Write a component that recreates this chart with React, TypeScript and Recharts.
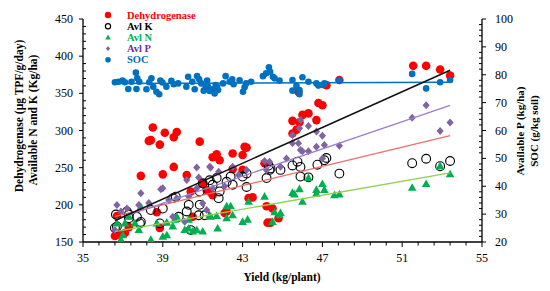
import React from "react";
import { ComposedChart, Scatter, XAxis, YAxis } from "recharts";

// yield (kg/plant) vs value
const dehydrogenase: [number, number][] = [
  [36.6, 158], [36.7, 185], [36.8, 160], [37.1, 162], [37.3, 170], [37.9, 239],
  [38.3, 286], [38.4, 287], [38.5, 304], [38.7, 190], [38.85, 169], [38.85, 281],
  [39.0, 241], [39.1, 297], [39.55, 291], [39.55, 251], [39.7, 298], [40.2, 240],
  [40.4, 218], [40.5, 184], [40.85, 285], [41.0, 229], [41.2, 220], [41.35, 218],
  [41.5, 213], [41.5, 264], [41.7, 268], [41.85, 260], [42.1, 189], [42.2, 191],
  [42.5, 269], [42.5, 248], [43.0, 267], [43.1, 278], [43.2, 277], [43.0, 247],
  [43.3, 209], [43.5, 210], [44.1, 256], [44.2, 198], [44.25, 176], [44.4, 176],
  [44.5, 195], [44.8, 182], [45.5, 296], [45.5, 313], [45.7, 301], [45.85, 311],
  [45.8, 352], [46.0, 321], [46.3, 323], [46.7, 314], [46.8, 337], [47.0, 334],
  [47.2, 361], [47.85, 368], [51.55, 387], [52.2, 387], [52.9, 382], [53.4, 374],
];

const avlK: [number, number][] = [
  [36.6, 169], [36.65, 187], [36.7, 171], [37.2, 191], [37.3, 187], [37.3, 182],
  [37.7, 184], [37.85, 175], [37.9, 177], [38.4, 193], [38.85, 175], [39.0, 195],
  [39.5, 209], [39.65, 211], [39.8, 184], [40.2, 191], [40.3, 200], [40.4, 166],
  [40.8, 186], [40.85, 200], [40.85, 218], [41.0, 229], [41.1, 186], [41.35, 233],
  [41.5, 227], [41.7, 236], [41.8, 209], [41.85, 218], [42.2, 231], [42.4, 238],
  [42.5, 227], [43.0, 238], [43.2, 242], [43.2, 224], [44.2, 236], [44.3, 253],
  [44.35, 247], [44.4, 249], [44.9, 247], [45.5, 253], [45.75, 258], [45.9, 251],
  [45.9, 238], [46.3, 237], [46.75, 254], [47.1, 260], [47.2, 263], [47.85, 242],
  [51.5, 256], [52.2, 262], [52.9, 252], [53.4, 259],
];

const avlN: [number, number][] = [
  [36.7, 175], [36.9, 153], [37.0, 159], [37.1, 175], [37.3, 184], [37.6, 175],
  [37.8, 166], [37.9, 197], [38.4, 153], [38.7, 175], [39.0, 157], [39.2, 159],
  [39.2, 176], [39.5, 171], [39.6, 180], [39.7, 184], [40.1, 166], [40.3, 168],
  [40.3, 180], [40.5, 164], [40.7, 166], [41.0, 164], [41.35, 186], [41.4, 184],
  [41.7, 185], [41.75, 168], [42.2, 198], [42.2, 182], [42.4, 198], [42.5, 186],
  [43.0, 177], [43.25, 180], [43.3, 204], [44.1, 211], [44.5, 177], [44.6, 190],
  [44.85, 186], [44.9, 189], [45.5, 216], [45.6, 214], [45.85, 221], [46.0, 204],
  [46.3, 236], [46.7, 220], [46.7, 215], [47.0, 228], [47.1, 220], [47.6, 213],
  [47.85, 214], [51.5, 223], [52.2, 228], [52.9, 252], [53.4, 241],
];

// right axis (kg/ha)
const avlP: [number, number][] = [
  [36.6, 24.3], [36.7, 33.3], [36.9, 30.9], [37.2, 32], [37.8, 33.3], [37.9, 37.5],
  [38.3, 34], [38.9, 38.9], [39.0, 39.3], [39.3, 35.1], [39.5, 29.1], [39.7, 35.7],
  [40.1, 27.3], [40.3, 36.3], [40.2, 42.2], [40.7, 39.3], [40.7, 46.7], [40.8, 43.1],
  [41.0, 33.9], [41.2, 31.5], [41.35, 47.0], [41.4, 46.7], [41.5, 39.3], [41.8, 45.2],
  [42.1, 40], [42.5, 47.0], [42.8, 44.0], [43.2, 45.8], [44.1, 49.1], [44.2, 45.8],
  [44.35, 48.8], [44.9, 47], [45.2, 50.0], [45.5, 55.4], [45.5, 58.4], [45.8, 55.4],
  [45.9, 53.0], [45.85, 60.8], [45.9, 63.8], [46.0, 52.6], [46.3, 61.6], [46.3, 52.6],
  [46.7, 54.2], [46.7, 59.6], [47.0, 58.1], [47.0, 50.0], [47.1, 54.8], [47.85, 54.5],
  [51.5, 64.6], [52.2, 69.1], [52.9, 59.8], [53.4, 62.9],
];

// right axis (g/kg soil)
const soc: [number, number][] = [
  [36.6, 77.3], [36.77, 77.5], [36.98, 77.9], [37.1, 77.3], [37.27, 74.9], [37.43, 77.5],
  [37.65, 80.75], [37.72, 78.7], [37.82, 77.5], [37.68, 74.9], [38.18, 74.8], [38.32, 77.3],
  [38.43, 78.7], [38.52, 75.7], [38.68, 73.9], [38.82, 73.0], [38.88, 77.9], [38.98, 77.2],
  [39.18, 75.7], [39.43, 77.8], [39.55, 76.6], [39.77, 76.9], [40.18, 75.7], [40.27, 79.3],
  [40.48, 77.5], [40.6, 74.8], [40.72, 79.5], [40.82, 78.4], [40.93, 76.9], [41.05, 74.3],
  [41.15, 75.7], [41.22, 77.9], [41.27, 75.7], [41.35, 74.2], [41.48, 74.8], [41.6, 73.3],
  [41.65, 76.3], [41.72, 75.7], [41.77, 74.5], [42.02, 76.9], [42.15, 79.5], [42.35, 77.5],
  [42.48, 78.4], [42.55, 76.6], [42.85, 78.0], [43.02, 73.9], [43.1, 75.5], [43.18, 76.9],
  [43.43, 77.5], [44.02, 79.5], [44.18, 80.5], [44.32, 82.7], [44.38, 81.1], [44.52, 79.3],
  [44.6, 78.7], [44.85, 77.9], [45.5, 78.1], [45.5, 74.3], [45.7, 76.0], [45.85, 74.5],
  [45.85, 73.0], [46.0, 79.1], [46.3, 77.5], [46.7, 76.9], [46.8, 76.1], [47.0, 76.3],
  [47.1, 76.9], [47.85, 78.1], [51.5, 80.3], [52.2, 75.1], [52.9, 77.3], [53.4, 78.1],
];

// linear trend end points
const trendDehydrogenase: [number, number][] = [[36.6, 179], [53.4, 381]];
const trendK: [number, number][] = [[36.6, 184.5], [53.4, 293]];
const trendN: [number, number][] = [[36.6, 164], [53.4, 243]];
const trendP: [number, number][] = [[36.6, 28], [53.4, 69]];
const trendSoc: [number, number][] = [[36.6, 76.9], [53.4, 77.3]];

const xTickLabels = [35, 39, 43, 47, 51, 55];
const leftTickLabels = [150, 200, 250, 300, 350, 400, 450];
const rightTickLabels = [20, 30, 40, 50, 60, 70, 80, 90, 100];

const legendNames = ["Dehydrogenase", "Avl K", "Avl N", "Avl P", "SOC"];
const legendTextColors = ["#ff0000", "#000000", "#00b050", "#7030a0", "#0070c0"];

const toXY = (arr: [number, number][]) => arr.map(([x, y]) => ({ x, y }));

const FONT = '"Liberation Serif", "DejaVu Serif", serif';

// minor ticks between labelled ones
function withMinor(major: number[], parts: number) {
  const out: number[] = [];
  for (let i = 0; i < major.length - 1; i++) {
    const step = (major[i + 1] - major[i]) / parts;
    for (let j = 0; j < parts; j++) out.push(+(major[i] + step * j).toFixed(3));
  }
  out.push(major[major.length - 1]);
  return out;
}

const isMajor = (list: number[], v: number) => list.some((m) => Math.abs(m - v) < 1e-6);

const XTick = (p: any) => {
  const v = p.payload.value;
  const major = isMajor(xTickLabels, v);
  return (
    <g>
      <line x1={p.x} x2={p.x} y1={p.y} y2={p.y + (major ? 5 : 3.5)} stroke="#000" strokeWidth={1} />
      {major && (
        <text x={p.x} y={p.y + 20} textAnchor="middle" fontFamily={FONT} fontSize={12} fill="#000">
          {v}
        </text>
      )}
    </g>
  );
};

const LeftTick = (p: any) => {
  const v = p.payload.value;
  const major = isMajor(leftTickLabels, v);
  return (
    <g>
      {major ? (
        <line x1={p.x - 4} x2={p.x} y1={p.y} y2={p.y} stroke="#000" strokeWidth={1} />
      ) : (
        <line x1={p.x} x2={p.x + 3} y1={p.y} y2={p.y} stroke="#000" strokeWidth={1} />
      )}
      {major && (
        <text x={p.x - 10} y={p.y + 4} textAnchor="end" fontFamily={FONT} fontSize={12} fill="#000">
          {v}
        </text>
      )}
    </g>
  );
};

const RightTick = (p: any) => {
  const v = p.payload.value;
  const major = isMajor(rightTickLabels, v);
  return (
    <g>
      {major ? (
        <line x1={p.x} x2={p.x + 4} y1={p.y} y2={p.y} stroke="#000" strokeWidth={1} />
      ) : (
        <line x1={p.x - 3} x2={p.x} y1={p.y} y2={p.y} stroke="#000" strokeWidth={1} />
      )}
      {major && (
        <text x={p.x + 13} y={p.y + 4} textAnchor="start" fontFamily={FONT} fontSize={12} fill="#000">
          {v}
        </text>
      )}
    </g>
  );
};

const RedDot = (p: any) => <circle cx={p.cx} cy={p.cy} r={4.3} fill="#ff0000" />;
const OpenCircle = (p: any) => (
  <circle cx={p.cx} cy={p.cy} r={4.4} fill="none" stroke="#000" strokeWidth={1.1} />
);
const Triangle = (p: any) => (
  <polygon
    points={`${p.cx},${p.cy - 4.6} ${p.cx + 4.3},${p.cy + 3} ${p.cx - 4.3},${p.cy + 3}`}
    fill="#00b050"
  />
);
const Diamond = (p: any) => (
  <polygon
    points={`${p.cx},${p.cy - 4} ${p.cx + 3.6},${p.cy} ${p.cx},${p.cy + 4} ${p.cx - 3.6},${p.cy}`}
    fill="#8064a2"
  />
);
const BlueDot = (p: any) => <circle cx={p.cx} cy={p.cy} r={3.3} fill="#0070c0" />;
const NoDot = () => <g />;

function LegendMarker({ i, x, y }: { i: number; x: number; y: number }) {
  if (i === 0) return <circle cx={x} cy={y} r={3.2} fill="#ff0000" />;
  if (i === 1) return <circle cx={x} cy={y} r={2.6} fill="none" stroke="#000" strokeWidth={1.2} />;
  if (i === 2)
    return <polygon points={`${x},${y - 3} ${x + 2.8},${y + 2} ${x - 2.8},${y + 2}`} fill="#00b050" />;
  if (i === 3)
    return <polygon points={`${x},${y - 2.4} ${x + 2.2},${y} ${x},${y + 2.4} ${x - 2.2},${y}`} fill="#8064a2" />;
  return <circle cx={x} cy={y} r={2.8} fill="#0070c0" />;
}

export default function App() {
  return (
    <div style={{ position: "absolute", left: 0, top: 0, width: 550, height: 291, background: "#fff" }}>
      <ComposedChart width={550} height={291} margin={{ top: 19, right: 0, bottom: 0, left: 0 }}>
        <XAxis
          type="number"
          dataKey="x"
          domain={[35, 55]}
          ticks={withMinor(xTickLabels, 5)}
          interval={0}
          tickSize={0}
          tickMargin={0}
          tick={XTick}
          height={49}
          stroke="#000"
          strokeWidth={1.3}
          allowDataOverflow
        />
        <YAxis
          yAxisId="left"
          type="number"
          dataKey="y"
          domain={[150, 450]}
          ticks={withMinor(leftTickLabels, 5)}
          interval={0}
          tickSize={0}
          tickMargin={0}
          tick={LeftTick}
          width={83}
          stroke="#000"
          strokeWidth={1.3}
          allowDataOverflow
        />
        <YAxis
          yAxisId="right"
          orientation="right"
          type="number"
          dataKey="y"
          domain={[20, 100]}
          ticks={withMinor(rightTickLabels, 5)}
          interval={0}
          tickSize={0}
          tickMargin={0}
          tick={RightTick}
          width={68}
          stroke="#000"
          strokeWidth={1.3}
          allowDataOverflow
        />

        <Scatter yAxisId="left" data={toXY(dehydrogenase)} shape={RedDot} isAnimationActive={false} />
        <Scatter yAxisId="left" data={toXY(avlK)} shape={OpenCircle} isAnimationActive={false} />
        <Scatter yAxisId="left" data={toXY(avlN)} shape={Triangle} isAnimationActive={false} />
        <Scatter yAxisId="right" data={toXY(avlP)} shape={Diamond} isAnimationActive={false} />
        <Scatter yAxisId="right" data={toXY(soc)} shape={BlueDot} isAnimationActive={false} />

        <Scatter yAxisId="left" data={toXY(trendK)} shape={NoDot} line={{ stroke: "#f26b6b", strokeWidth: 1.3 }} isAnimationActive={false} />
        <Scatter yAxisId="left" data={toXY(trendN)} shape={NoDot} line={{ stroke: "#92d050", strokeWidth: 1.3 }} isAnimationActive={false} />
        <Scatter yAxisId="right" data={toXY(trendP)} shape={NoDot} line={{ stroke: "#9b7fd0", strokeWidth: 1.3 }} isAnimationActive={false} />
        <Scatter yAxisId="right" data={toXY(trendSoc)} shape={NoDot} line={{ stroke: "#0070c0", strokeWidth: 1.5 }} isAnimationActive={false} />
        <Scatter yAxisId="left" data={toXY(trendDehydrogenase)} shape={NoDot} line={{ stroke: "#111", strokeWidth: 1.5 }} isAnimationActive={false} />
      </ComposedChart>

      <svg
        width={550}
        height={291}
        style={{ position: "absolute", left: 0, top: 0, pointerEvents: "none" }}
      >
        {legendNames.map((name, i) => {
          const y = 15 + i * 11.2;
          return (
            <g key={name}>
              <LegendMarker i={i} x={108} y={y} />
              <text x={127} y={y + 3.5} fontFamily={FONT} fontSize={10.5} fontWeight="bold" fill={legendTextColors[i]}>
                {name}
              </text>
            </g>
          );
        })}
        <text
          x={19}
          y={116}
          transform="rotate(-90, 19, 116)"
          textAnchor="middle"
          dominantBaseline="central"
          fontFamily={FONT}
          fontSize={11.5}
          fontWeight="bold"
        >
          Dehydrogenase (µg TPF/g/day)
        </text>
        <text
          x={33}
          y={120}
          transform="rotate(-90, 33, 120)"
          textAnchor="middle"
          dominantBaseline="central"
          fontFamily={FONT}
          fontSize={11.5}
          fontWeight="bold"
        >
          Available N and K (Kg/ha)
        </text>
        <text
          x={520}
          y={131}
          transform="rotate(-90, 520, 131)"
          textAnchor="middle"
          dominantBaseline="central"
          fontFamily={FONT}
          fontSize={11}
          fontWeight="bold"
        >
          Available P (kg/ha)
        </text>
        <text
          x={534}
          y={131}
          transform="rotate(-90, 534, 131)"
          textAnchor="middle"
          dominantBaseline="central"
          fontFamily={FONT}
          fontSize={11}
          fontWeight="bold"
        >
          SOC (g/kg soil)
        </text>
        <text x={282} y={281} textAnchor="middle" fontFamily={FONT} fontSize={11.5} fontWeight="bold">
          Yield (kg/plant)
        </text>
      </svg>
    </div>
  );
}
